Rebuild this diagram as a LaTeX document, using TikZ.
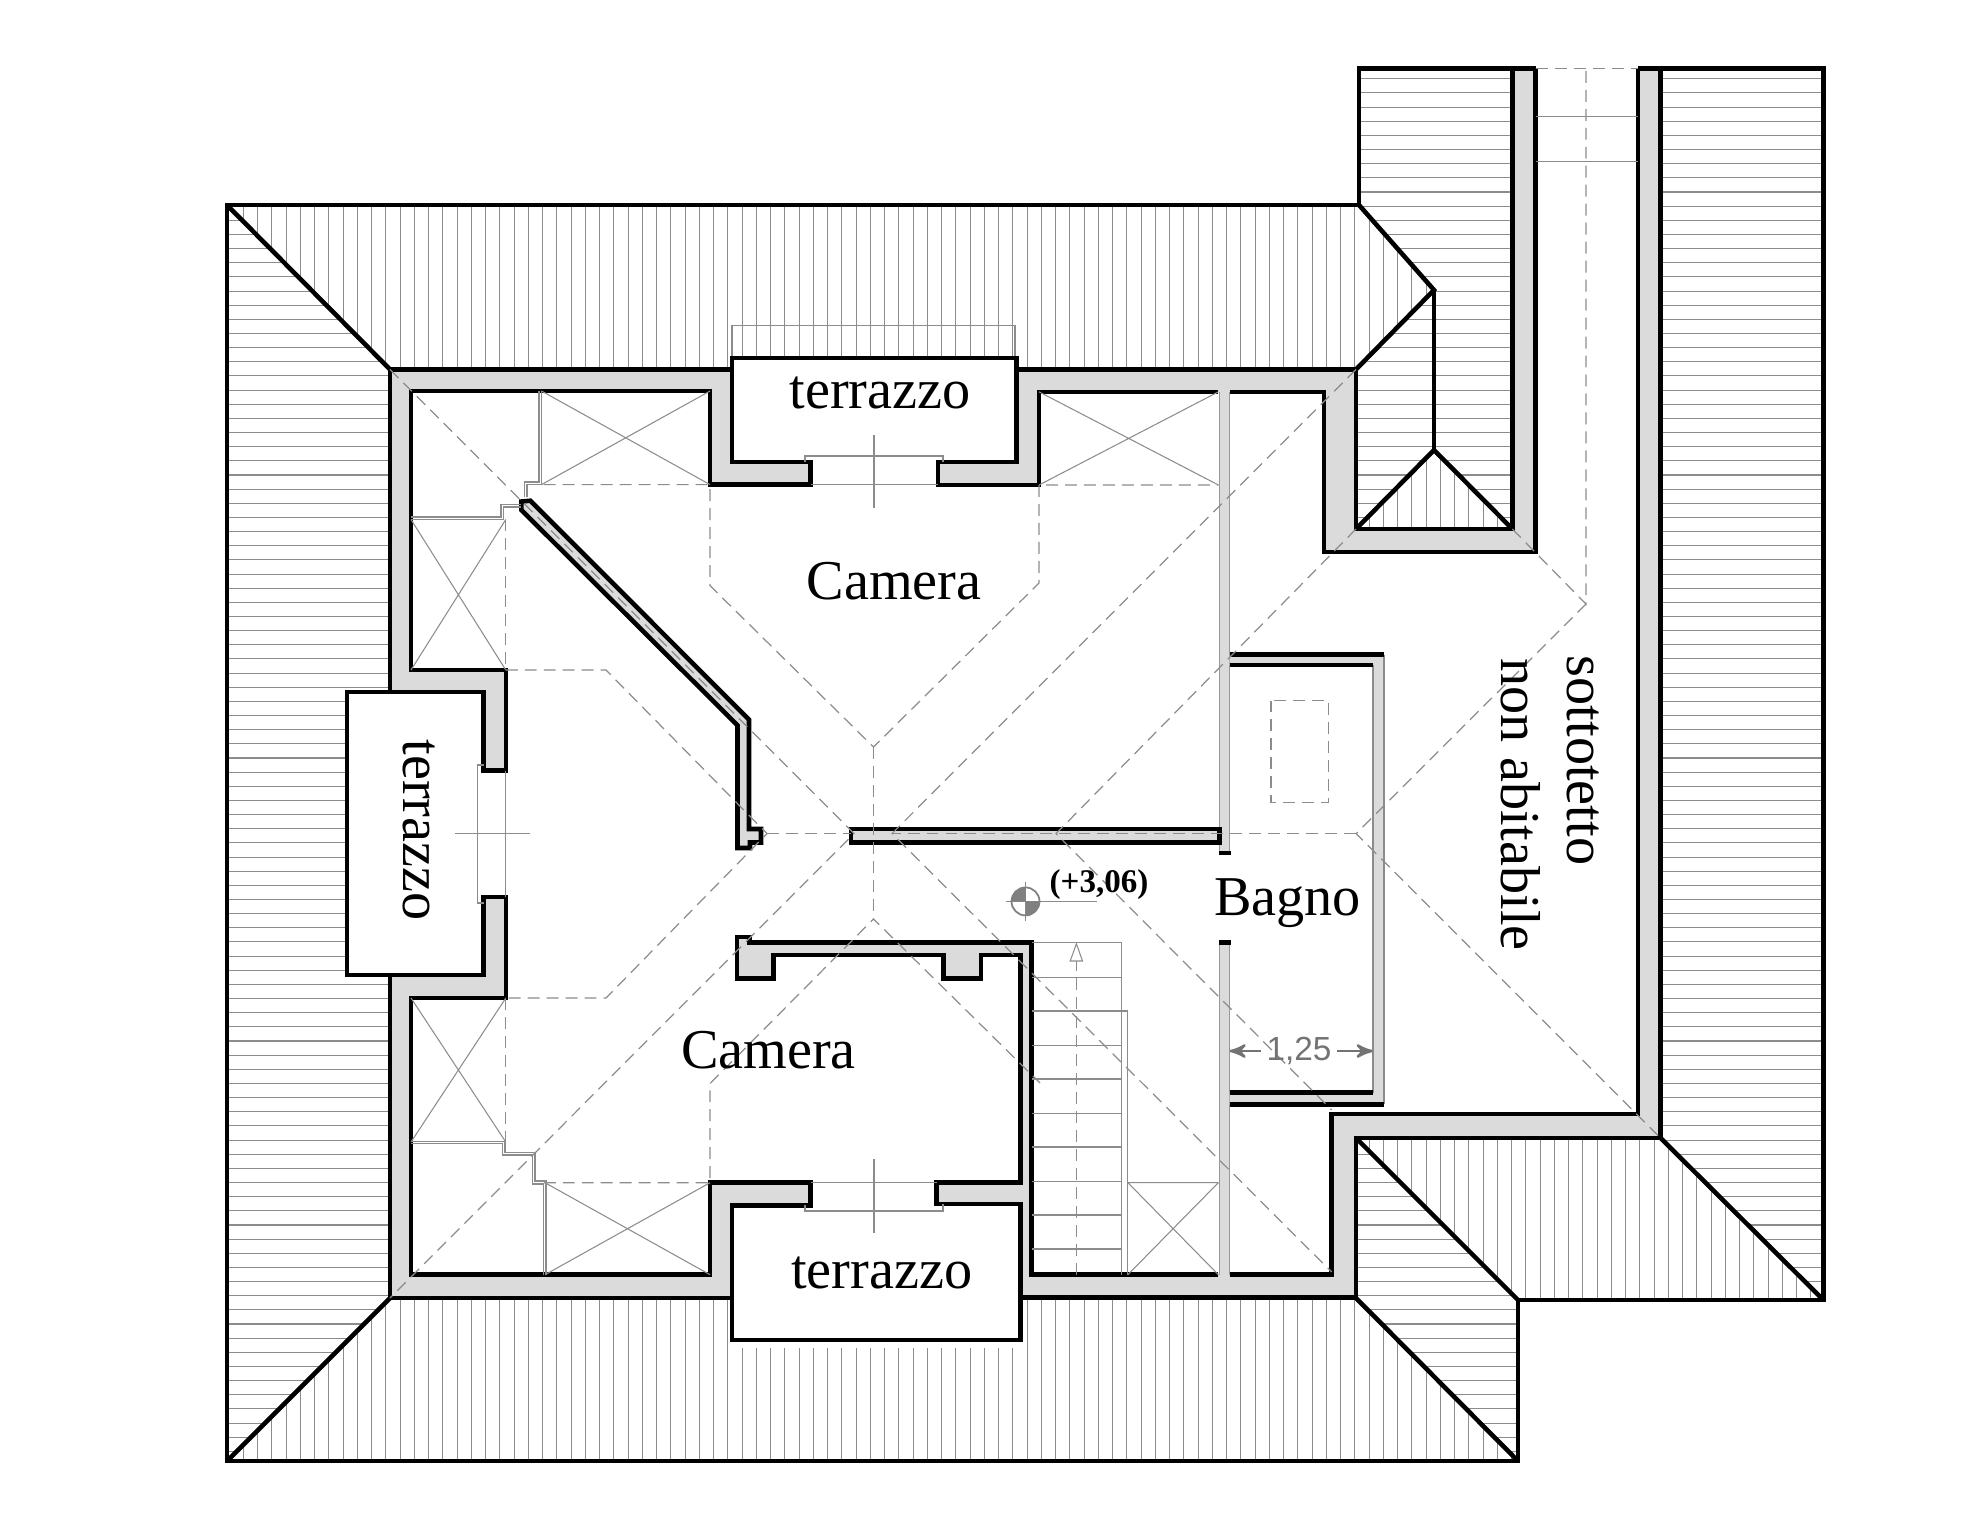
\documentclass[tikz,border=0pt]{standalone}
\usepackage{fontspec}
\setmainfont{Liberation Serif}
\newfontfamily\dimfont{Liberation Sans}
\usepackage{tikz}
\usetikzlibrary{arrows, positioning}
\definecolor{wallgray}{gray}{0.86}
\tikzset{
  wall/.style = {draw=black, fill=wallgray, line width=1.3pt, line join=miter},
  roofline/.style = {draw=black, line width=1.3pt, line join=miter},
  hatchline/.style = {draw=black!45, line width=0.3pt},
  thinline/.style = {draw=black!45, line width=0.3pt},
  ridge/.style = {draw=black!45, line width=0.35pt, dash pattern=on 3.4pt off 2pt},
  room/.style = {font=\fontsize{16}{18}\selectfont, inner sep=0pt}
}
\newcommand{\hatchV}[1]{\begin{scope}\clip #1;
  \foreach \hx in {0,...,111} \draw[hatchline] ({243.3+14.25*\hx},60) -- ({243.3+14.25*\hx},1470);
  \end{scope}}
\newcommand{\hatchH}[1]{\begin{scope}\clip #1;
  \foreach \hy in {0,...,98} \draw[hatchline] (220,{78.8+14.15*\hy}) -- (1830,{78.8+14.15*\hy});
  \end{scope}}
\begin{document}
\begin{tikzpicture}[x=0.1mm, y=-0.1mm]
\useasboundingbox (0,0) rectangle (1972,1536);
% roof slopes
\hatchV{(227,205) -- (1359,205) -- (1434,290) -- (1356,369) -- (390,369) -- cycle}
\hatchH{(227,205) -- (390,369) -- (390,1298) -- (227,1461) -- cycle}
\hatchV{(227,1461) -- (390,1298) -- (1356,1298) -- (1518,1461) -- cycle}
\hatchH{(1359,68.6) -- (1512.4,68.6) -- (1512.4,529) -- (1434,450) -- (1356,529) -- (1356,369) -- (1434,290) -- (1359,205) -- cycle}
\hatchV{(1356,529) -- (1434,450) -- (1512.4,529) -- cycle}
\hatchH{(1660.6,68.6) -- (1823.4,68.6) -- (1823.4,1300) -- (1660.6,1138) -- cycle}
\hatchV{(1356,1138) -- (1660.6,1138) -- (1823.4,1300) -- (1518,1300) -- cycle}
\hatchH{(1356,1138) -- (1518,1300) -- (1518,1461) -- (1356,1298) -- cycle}
% terraces
\fill[white] (732,358) rectangle (1016.3,462);
\fill[white] (347,692) rectangle (483.5,975);
\fill[white] (732,1205) rectangle (1020.6,1348);
\draw[thinline] (732,358) -- (732,325.5) -- (1015,325.5) -- (1015,358);
\draw[roofline] (732,369) -- (732,358) -- (1016.3,358) -- (1016.3,369);
\draw[roofline] (390,692) -- (347,692) -- (347,975) -- (390,975);
\draw[roofline] (732,1298) -- (732,1340) -- (1020.6,1340) -- (1020.6,1298);
% roof outline
\draw[roofline] (1535.7,68.6) -- (1359,68.6) -- (1359,205) -- (227,205) -- (227,1461) -- (1518,1461) -- (1518,1300) -- (1823.4,1300) -- (1823.4,68.6) -- (1637.9,68.6);
\draw[roofline] (227,205) -- (390,369.4);
\draw[roofline] (227,1461) -- (390,1298);
\draw[roofline] (1359,205) -- (1434,290) -- (1356,369.4);
\draw[roofline] (1434,290) -- (1434,450);
\draw[roofline] (1356,529) -- (1434,450) -- (1512.4,529);
\draw[roofline] (1356,1138) -- (1518,1300);
\draw[roofline] (1660.6,1138) -- (1823.4,1300);
\draw[roofline] (1356,1298) -- (1518,1461);
% thin wall and bagno
\fill[wallgray] (1219.7,392) rectangle (1229.5,853);
\fill[wallgray] (1219.7,942.6) rectangle (1229.5,1298);
\draw[draw=black!40, line width=0.4pt] (1219.7,392) -- (1219.7,853) (1229.5,392) -- (1229.5,853) (1219.7,942.6) -- (1219.7,1275) (1229.5,942.6) -- (1229.5,1275);
\draw[roofline] (1218.5,853) -- (1230.5,853) (1218.5,942.6) -- (1230.5,942.6);
\fill[wallgray] (1229.5,654.5) -- (1383.8,654.5) -- (1383.8,1104.4) -- (1229.5,1104.4) -- (1229.5,1092.6) -- (1372.8,1092.6) -- (1372.8,665) -- (1229.5,665) -- cycle;
\draw[draw=black!45, line width=0.5pt] (1372.8,665) -- (1372.8,1092.6) (1383.8,654.5) -- (1383.8,1104.4);
\draw[roofline] (1229.5,654.5) -- (1383.8,654.5) (1229.5,665) -- (1372.8,665) (1229.5,1092.6) -- (1372.8,1092.6) (1229.5,1104.4) -- (1383.8,1104.4);
% walls
\draw[wall] (732,369.4) -- (390,369.4) -- (390,692) -- (483.5,692) -- (483.5,770.5) -- (505.8,770.5) -- (505.8,670) -- (411,670) -- (411,391) -- (710,391) -- (710,484.6) -- (810.7,484.6) -- (810.7,462) -- (732,462) -- cycle;
\fill[wallgray] (1016.3,369.4) -- (1356,369.4) -- (1356,529) -- (1512.4,529) -- (1512.4,68.6) -- (1535.7,68.6) -- (1535.7,552) -- (1323.8,552) -- (1323.8,391.8) -- (1039,391.8) -- (1039,485) -- (938,485) -- (938,462) -- (1016.3,462) -- cycle;
\draw[roofline] (1218.4,391.8) -- (1039,391.8) -- (1039,485) -- (938,485) -- (938,462) -- (1016.3,462) -- (1016.3,369.4) -- (1356,369.4) -- (1356,529) -- (1512.4,529) -- (1512.4,68.6) (1535.7,68.6) -- (1535.7,552) -- (1323.8,552) -- (1323.8,391.8) -- (1229.5,391.8);
\draw[roofline] (1512.4,68.6) -- (1535.7,68.6);
\draw[wall] (483.5,897) -- (505.8,897) -- (505.8,998) -- (411,998) -- (411,1274.7) -- (710,1274.7) -- (710,1182.7) -- (810.7,1182.7) -- (810.7,1205.4) -- (732,1205.4) -- (732,1298) -- (390,1298) -- (390,975) -- (483.5,975) -- cycle;
\fill[wallgray] (1020.6,1298) -- (1020.6,1204) -- (936.7,1204) -- (936.7,1182.6) -- (1020.6,1182.6) -- (1020.6,955) -- (980.8,955) -- (980.8,978.5) -- (943.5,978.5) -- (943.5,955) -- (773.7,955) -- (773.7,978.7) -- (737,978.7) -- (737,937) -- (749.5,937) -- (749.5,942.6) -- (1031.7,942.6) -- (1031.7,1274.7) -- (1331.7,1274.7) -- (1331.7,1114) -- (1637.9,1114) -- (1637.9,68.6) -- (1660.6,68.6) -- (1660.6,1138) -- (1356.2,1138) -- (1356.2,1297.7) -- cycle;
\draw[roofline] (1020.6,1298) -- (1020.6,1204) -- (936.7,1204) -- (936.7,1182.6) -- (1020.6,1182.6) -- (1020.6,955) -- (980.8,955) -- (980.8,978.5) -- (943.5,978.5) -- (943.5,955) -- (773.7,955) -- (773.7,978.7) -- (737,978.7) -- (737,937) -- (749.5,937) -- (749.5,942.6) -- (1031.7,942.6) -- (1031.7,1274.7) -- (1218.4,1274.7);
\draw[roofline] (1229.5,1274.7) -- (1331.7,1274.7) -- (1331.7,1114) -- (1637.9,1114) -- (1637.9,68.6) (1660.6,68.6) -- (1660.6,1138) -- (1356.2,1138) -- (1356.2,1297.7) -- (1020.6,1297.7);
\draw[roofline] (1637.9,68.6) -- (1660.6,68.6);
\draw[wall] (851,829) -- (1219.7,829) -- (1219.7,842.5) -- (851,842.5) -- cycle;
\draw[wall] (521.4,501.5) -- (530.4,500.7) -- (749,719.6) -- (749,829) -- (761,829) -- (761,842.5) -- (750,842.5) -- (750,848) -- (737.5,848) -- (737.5,725.3) -- (521.4,510) -- cycle;
% ridges
\draw[ridge] (390,369.4) -- (854,833.6) -- (390,1298);
\draw[ridge] (1356,369.4) -- (892,833.6) -- (1331.7,1272);
\draw[ridge] (1512.4,529) -- (1586,604) -- (1586,68.6);
\draw[ridge] (1586,604) -- (1356,833.6) -- (1660.6,1138);
\draw[ridge] (1356,529) -- (1056,833.6) -- (1331.7,1110);
\draw[ridge] (1356,833.6) -- (892,833.6);
\draw[ridge] (505.8,670) -- (606,670) -- (767,833.6) -- (606,998) -- (505.8,998);
\draw[ridge] (767,833.6) -- (851,833.6);
\draw[ridge] (543.7,484.6) -- (710,484.6) -- (710,585.6) -- (873.5,747) -- (1039,583) -- (1039,485) -- (1218.4,485);
\draw[ridge] (873.5,747) -- (873.5,919);
\draw[ridge] (543.8,1182.7) -- (710,1182.7) -- (710,1083.6) -- (873.5,919) -- (1040,1083);
\draw[ridge] (505.8,519.5) -- (505.8,670);
\draw[ridge] (505.8,998) -- (505.8,1142);
\draw[ridge] (1535.7,68.6) -- (1637.9,68.6);
\draw[ridge] (1271,700.5) rectangle (1328.7,802.3);
% boxes and windows
\draw[thinline] (541.5,391) -- (710,484.6) (541.5,484.6) -- (710,391);
\draw[thinline] (411,519.5) -- (505.8,670) (505.8,519.5) -- (411,670);
\draw[thinline] (1039,391.8) -- (1218.4,485) (1039,485) -- (1218.4,391.8);
\draw[thinline] (411,998) -- (505.8,1142) (505.8,998) -- (411,1142);
\draw[thinline] (545,1182.7) -- (710,1274.7) (545,1274.7) -- (710,1182.7);
\draw[thinline] (1127.8,1182.6) -- (1218.4,1274.7) (1127.8,1274.7) -- (1218.4,1182.6) (1127.8,1182.6) -- (1218.4,1182.6);
\draw[thinline] (539,391) -- (539,482) -- (524.5,482) -- (524.5,497) (541.5,391) -- (541.5,484.6) -- (527,484.6) -- (527,497);
\draw[thinline] (411,517) -- (501,517) -- (501,504.5) -- (521,504.5) (411,519.5) -- (503.6,519.5) -- (503.6,507) -- (521,507);
\draw[thinline] (411,1141.5) -- (505,1141.5) -- (505,1152.5) -- (535,1152.5) -- (535,1181) -- (546,1181) -- (546,1274.7) (411,1143.8) -- (502.7,1143.8) -- (502.7,1155) -- (532.6,1155) -- (532.6,1184) -- (543.8,1184) -- (543.8,1274.7);
\draw[thinline] (805,462) -- (805,456) -- (943,456) -- (943,462) (810.7,484.6) -- (938,484.6) (874,434.5) -- (874,508.4);
\draw[thinline] (810.7,1182.7) -- (936.7,1182.7) (805,1205.4) -- (805,1211) -- (943,1211) -- (943,1204) (874,1158.6) -- (874,1233);
\draw[thinline] (505.8,770.5) -- (505.8,897) (483.5,765) -- (477.7,765) -- (477.7,903) -- (483.5,903) (455,833.6) -- (529.5,833.6);
\draw[thinline] (1535.7,116.3) -- (1637.9,116.3) (1535.7,161.2) -- (1637.9,161.2);
% stairs
\draw[thinline] (1031.7,942.6) -- (1121.7,942.6) -- (1121.7,1274.7);
\foreach \ty in {977.4,1011,1045.5,1079,1113.5,1147,1181.5,1215,1249}
  \draw[thinline] (1031.7,\ty) -- (1121.7,\ty);
\draw[thinline] (1121.7,1011) -- (1127.8,1011) -- (1127.8,1274.7);
\draw[ridge] (1076.4,1274.7) -- (1076.4,961);
\draw[thinline] (1070.2,961) -- (1076.4,943.7) -- (1082.5,961) -- cycle;
% level mark
\coordinate (mark) at (1025.5,901.4);
\draw[thinline] (1006,901.4) -- (1097,901.4) (1025.5,882) -- (1025.5,921);
\draw[draw=black!50, line width=0.5pt] (mark) circle (14);
\fill[black!50] (mark) -- ++(14,0) arc[start angle=0, end angle=90, radius=14] -- cycle;
\fill[black!50] (mark) -- ++(-14,0) arc[start angle=180, end angle=270, radius=14] -- cycle;
\node [font=\bfseries\fontsize{9.4}{11}\selectfont, inner sep=0pt] (level) at (1099,884.5) {(+3,06)};
% labels
\node [room] (terrazzoN) at (880,393) {terrazzo};
\node [room] (terrazzoS) at (881.6,1272.5) {terrazzo};
\node [room, rotate=-90] (terrazzoW) at (419,830) {terrazzo};
\node [room] (cameraN) at (894,581) {Camera};
\node [room] (cameraS) at (768.5,1050) {Camera};
\node [room] (bagno) at (1287.6,903) {Bagno};
\node [room, rotate=-90] (sottotetto) at (1582.8,760.5) {sottotetto};
\node [room, rotate=-90] (abitabile) at (1521,804.7) {non abitabile};
% width of bagno
\coordinate (bagnoL) at (1229.5,1051);
\coordinate (bagnoR) at (1372.8,1051);
\node [font=\dimfont\fontsize{9.5}{11}\selectfont, text=black!55, inner sep=1.5pt] (dim) at (1299,1051) {1,25};
\draw[->, >=stealth', draw=black!55, line width=0.7pt] (dim) -- (bagnoL);
\draw[->, >=stealth', draw=black!55, line width=0.7pt] (dim) -- (bagnoR);
\end{tikzpicture}
\end{document}
